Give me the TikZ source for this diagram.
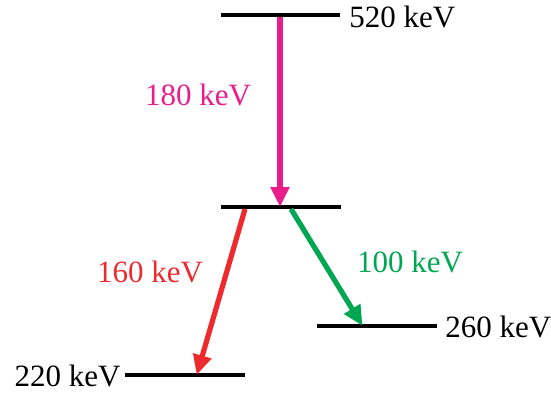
\documentclass[tikz,border=0pt]{standalone}
\usepackage{fontspec}
\setmainfont{Liberation Serif}
\usepackage{xcolor}
\usetikzlibrary{arrows.meta, positioning}
\definecolor{gmagenta}{HTML}{E91E8C}
\definecolor{gred}{HTML}{EE2A2F}
\definecolor{ggreen}{HTML}{00A651}
\tikzset{
  level/.style={line width=2pt, draw=black},
  lbl/.style={font=\fontsize{15.5}{18}\selectfont, inner sep=0pt},
  gamma/.style={-{Triangle[length=10pt, width=9pt]}, line width=2.6pt, shorten >=-0.5pt},
}
\begin{document}
\begin{tikzpicture}[x=0.5pt, y=-0.5pt]
  \useasboundingbox (0,0) rectangle (551,393);
  % levels
  \coordinate (l520a) at (221,15);  \coordinate (l520b) at (340,15);
  \coordinate (lmida) at (221,207); \coordinate (lmidb) at (341,207);
  \coordinate (l260a) at (317,326); \coordinate (l260b) at (437,326);
  \coordinate (l220a) at (125,375); \coordinate (l220b) at (245,375);
  \draw[level] (l520a) -- (l520b);
  \draw[level] (lmida) -- (lmidb);
  \draw[level] (l260a) -- (l260b);
  \draw[level] (l220a) -- (l220b);
  \node[lbl, anchor=west] (e520) at (349,17) {520 keV};
  \node[lbl, anchor=west] (e260) at (445,327) {260 keV};
  \node[lbl, anchor=east] (e220) at (121,376) {220 keV};
  % transitions
  \coordinate (t180a) at (280,17);  \coordinate (t180b) at (280,206);
  \coordinate (t160a) at (245,209); \coordinate (t160b) at (197,374);
  \coordinate (t100a) at (291,209); \coordinate (t100b) at (362,325);
  \draw[gamma, gmagenta] (t180a) -- (t180b);
  \draw[gamma, gred] (t160a) -- (t160b);
  \draw[gamma, ggreen] (t100a) -- (t100b);
  \node[lbl, gmagenta] (g180) at (198,95) {180 keV};
  \node[lbl, gred] (g160) at (150,272) {160 keV};
  \node[lbl, ggreen] (g100) at (410,262) {100 keV};
\end{tikzpicture}
\end{document}
